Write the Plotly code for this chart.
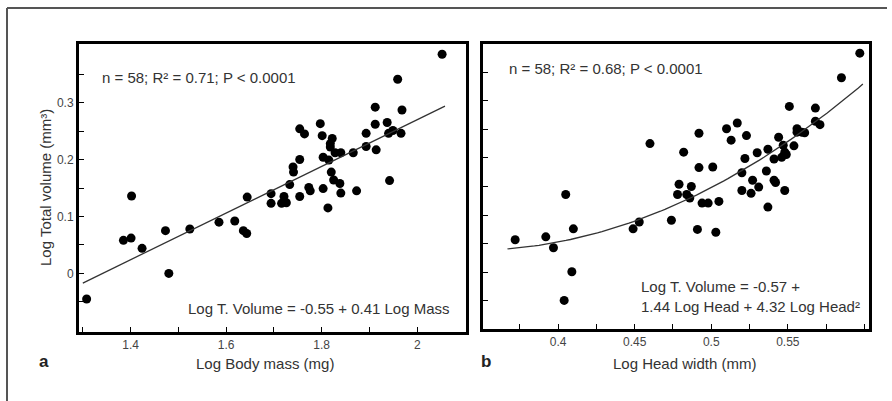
import numpy as np
import plotly.graph_objects as go

# ---- Panel a: Log body mass vs Log total volume ----
mass_x = [2.052, 1.959, 1.912, 1.968, 1.937, 1.912, 1.893, 1.940, 1.949, 1.966,
          1.797, 1.754, 1.764, 1.801, 1.822, 1.818, 1.818, 1.893, 1.914, 1.828,
          1.840, 1.866, 1.803, 1.815, 1.754, 1.740, 1.741, 1.820, 1.825, 1.838,
          1.733, 1.942, 1.773, 1.803, 1.776, 1.873, 1.840, 1.694, 1.721, 1.754,
          1.644, 1.402, 1.694, 1.716, 1.726, 1.813, 1.585, 1.618, 1.636, 1.643,
          1.524, 1.473, 1.385, 1.401, 1.424, 1.480, 1.308]
mass_y = [0.385, 0.341, 0.292, 0.287, 0.265, 0.262, 0.246, 0.246, 0.251, 0.246,
          0.263, 0.254, 0.245, 0.242, 0.237, 0.228, 0.222, 0.223, 0.217, 0.212,
          0.212, 0.212, 0.204, 0.199, 0.200, 0.187, 0.178, 0.178, 0.164, 0.158,
          0.156, 0.163, 0.151, 0.149, 0.145, 0.145, 0.141, 0.140, 0.135, 0.135,
          0.134, 0.136, 0.123, 0.123, 0.124, 0.115, 0.090, 0.092, 0.075, 0.070,
          0.078, 0.075, 0.058, 0.062, 0.044, 0.000, -0.045]

# ---- Panel b: Log head width vs Log total volume ----
head_x = [0.597, 0.585, 0.551, 0.568, 0.568, 0.571, 0.556, 0.556, 0.561, 0.559,
          0.510, 0.517, 0.513, 0.523, 0.492, 0.460, 0.544, 0.537, 0.547, 0.554,
          0.530, 0.548, 0.549, 0.482, 0.522, 0.541, 0.546, 0.492, 0.501, 0.520,
          0.536, 0.527, 0.541, 0.542, 0.479, 0.487, 0.531, 0.520, 0.526, 0.548,
          0.405, 0.478, 0.484, 0.486, 0.494, 0.498, 0.505, 0.537, 0.474, 0.453,
          0.449, 0.491, 0.503, 0.410, 0.392, 0.372, 0.397, 0.409, 0.404]
head_y = [0.383, 0.340, 0.290, 0.287, 0.264, 0.258, 0.251, 0.245, 0.244, 0.245,
          0.251, 0.261, 0.231, 0.239, 0.243, 0.225, 0.236, 0.215, 0.222, 0.221,
          0.209, 0.210, 0.206, 0.210, 0.199, 0.198, 0.201, 0.183, 0.184, 0.174,
          0.177, 0.161, 0.161, 0.157, 0.154, 0.150, 0.149, 0.143, 0.138, 0.143,
          0.136, 0.136, 0.136, 0.130, 0.121, 0.121, 0.124, 0.114, 0.091, 0.088,
          0.076, 0.075, 0.070, 0.076, 0.062, 0.057, 0.043, 0.001, -0.049]

# fitted lines (as drawn)
lin_a, lin_b = -0.55, 0.41
lin_range = [1.300, 2.058]
quad_c0, quad_b, quad_c, quad_center = 0.122, 1.215, 4.40, 0.48
quad_range = [0.367, 0.599]

mass_ticks = [1.3, 1.4, 1.5, 1.6, 1.7, 1.8, 1.9, 2.0, 2.1]
mass_ticktext = ["", "1.4", "", "1.6", "", "1.8", "", "2", ""]
head_ticks = [0.375, 0.4, 0.425, 0.45, 0.475, 0.5, 0.525, 0.55, 0.575, 0.6]
head_ticktext = ["", "0.4", "", "0.45", "", "0.5", "", "0.55", "", ""]
vol_ticks = [-0.05, 0, 0.05, 0.1, 0.15, 0.2, 0.25, 0.3, 0.35]
vol_ticktext = ["", "0", "", "0.1", "", "0.2", "", "0.3", ""]

W, H = 892, 401
FONT = "Liberation Sans, Arial, Helvetica, sans-serif"
TXT = "#333333"

fig = go.Figure()
fig.add_trace(go.Scatter(x=mass_x, y=mass_y, mode="markers",
                         marker=dict(color="black", size=9), xaxis="x", yaxis="y"))
lx = np.array(lin_range)
fig.add_trace(go.Scatter(x=lx, y=lin_a + lin_b * lx, mode="lines",
                         line=dict(color="#333333", width=1.3), xaxis="x", yaxis="y"))
fig.add_trace(go.Scatter(x=head_x, y=head_y, mode="markers",
                         marker=dict(color="black", size=9), xaxis="x2", yaxis="y2"))
hx = np.linspace(quad_range[0], quad_range[1], 80)
hy = quad_c0 + quad_b * (hx - quad_center) + quad_c * (hx - quad_center) ** 2
fig.add_trace(go.Scatter(x=hx, y=hy, mode="lines",
                         line=dict(color="#333333", width=1.3), xaxis="x2", yaxis="y2"))

def px(v):
    return v / W

def py(v):
    return 1 - v / H

common_axis = dict(showline=True, linewidth=3, linecolor="black", mirror=True,
                   showgrid=False, zeroline=False, ticks="inside", ticklen=5,
                   tickwidth=1.2, tickcolor="black",
                   tickfont=dict(family=FONT, size=12, color="#444444"))

fig.update_layout(
    width=W, height=H, showlegend=False,
    paper_bgcolor="white", plot_bgcolor="white",
    margin=dict(l=0, r=0, t=0, b=0),
    xaxis=dict(domain=[px(79), px(466)], range=[1.292, 2.102], anchor="y",
               tickmode="array", tickvals=mass_ticks, ticktext=mass_ticktext, **common_axis),
    yaxis=dict(domain=[py(332), py(44)], range=[-0.103, 0.403], anchor="x",
               tickmode="array", tickvals=vol_ticks, ticktext=vol_ticktext, **common_axis),
    xaxis2=dict(domain=[px(483), px(869)], range=[0.351, 0.603], anchor="y2",
                tickmode="array", tickvals=head_ticks, ticktext=head_ticktext, **common_axis),
    yaxis2=dict(domain=[py(329), py(44)], range=[-0.099, 0.399], anchor="x2",
                tickmode="array", tickvals=vol_ticks, showticklabels=False, **common_axis),
)

ann = []
def add_text(text, x, y, xanchor="left", yanchor="middle", size=15, angle=0,
             bold=False, color=TXT, align="left"):
    ann.append(dict(text=("<b>%s</b>" % text) if bold else text,
                    x=px(x), y=py(y), xref="paper", yref="paper",
                    xanchor=xanchor, yanchor=yanchor, showarrow=False,
                    textangle=angle, align=align,
                    font=dict(family=FONT, size=size, color=color)))

add_text("n = 58; R² = 0.71; P &lt; 0.0001", 100, 77)
add_text("Log T. Volume = -0.55 + 0.41 Log Mass", 452, 308, xanchor="right")
add_text("n = 58; R² = 0.68; P &lt; 0.0001", 507, 68)
add_text("Log T. Volume = -0.57 +<br>1.44 Log Head + 4.32 Log Head²", 639, 296)
add_text("Log Body mass (mg)", 265, 363, xanchor="center", size=15)
add_text("Log Head width (mm)", 684, 363, xanchor="center", size=15)
add_text("Log Total volume (mm³)", 45, 188, xanchor="center", size=15, angle=-90)
add_text("a", 44, 361, xanchor="center", size=17, bold=True, color="#222222")
add_text("b", 486, 361, xanchor="center", size=17, bold=True, color="#222222")
fig.update_layout(annotations=ann)

# outer figure frame (top and left edges)
fig.add_shape(type="line", xref="paper", yref="paper",
              x0=px(7), y0=py(8), x1=px(887), y1=py(8),
              line=dict(color="#555555", width=2))
fig.add_shape(type="line", xref="paper", yref="paper",
              x0=px(7), y0=py(8), x1=px(7), y1=0,
              line=dict(color="#555555", width=2))

fig.write_html("out.html",
               config={"displayModeBar": False},
               post_script="document.body.style.margin='0';document.body.style.overflow='hidden';")
